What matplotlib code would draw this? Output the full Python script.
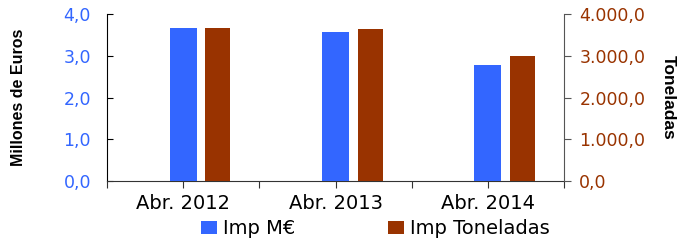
import matplotlib.pyplot as plt
import numpy as np

plt.rcParams['font.family'] = ['DejaVu Sans']

# Data
categories = ['Abr. 2012', 'Abr. 2013', 'Abr. 2014']
imp_meur = [3.67, 3.58, 2.79]          # Millones de Euros (left axis)
imp_ton = [3670.0, 3650.0, 3000.0]     # Toneladas (right axis)

blue = '#3366FF'
brown = '#993300'


def fmt_es(v, pos=None):
    s = f"{v:,.1f}"
    return s.replace(',', 'X').replace('.', ',').replace('X', '.')


fig = plt.figure(figsize=(6.94, 2.42), dpi=100)
ax = fig.add_axes([0.1542, 0.252, 0.6585, 0.690])
ax2 = ax.twinx()

x = np.arange(len(categories))
b1 = ax.bar(x, imp_meur, width=0.178, color=blue, label='Imp M€', zorder=3)
b2 = ax2.bar(x + 0.227, imp_ton, width=0.165, color=brown, label='Imp Toneladas', zorder=3)

ax.set_xlim(-0.5, 2.5)
ax.set_ylim(0, 4)
ax2.set_ylim(0, 4000)
ax.set_yticks([0, 1, 2, 3, 4])
ax2.set_yticks([0, 1000, 2000, 3000, 4000])
ax.yaxis.set_major_formatter(plt.FuncFormatter(fmt_es))
ax2.yaxis.set_major_formatter(plt.FuncFormatter(fmt_es))

ax.set_xticks(x)
ax.set_xticklabels(categories, fontsize=14)
ax.set_xticks([-0.5, 0.5, 1.5, 2.5], minor=True)
ax.tick_params(axis='x', which='both', direction='out', length=5, width=0.8,
               color='#333333', pad=4)

ax.tick_params(axis='y', direction='in', length=4, width=0.8,
               labelcolor=blue, labelsize=12.5, pad=11.5)
ax2.tick_params(axis='y', direction='out', length=5, width=0.8, color='#555555',
                labelcolor=brown, labelsize=12.5, pad=6)

for a in (ax, ax2):
    a.spines['top'].set_visible(False)
ax.spines['right'].set_visible(False)
ax2.spines['left'].set_visible(False)
ax2.spines['bottom'].set_visible(False)
ax2.spines['right'].set_color('#555555')
ax.spines['left'].set_color('black')
ax.spines['bottom'].set_color('#333333')

ax.set_ylabel('Millones de Euros', fontsize=11.5, fontweight='bold',
              family='Liberation Sans')
ax2.set_ylabel('Toneladas', fontsize=12.5, fontweight='bold', rotation=-90,
               va='bottom', family='Liberation Sans')
ax.yaxis.set_label_coords(-0.177, 0.5)
ax2.yaxis.set_label_coords(1.212, 0.5)

fig.legend([b1, b2], ['Imp M€', 'Imp Toneladas'], loc='center left',
           bbox_to_anchor=(0.2896, 0.054), ncol=2, frameon=False, fontsize=14,
           handlelength=0.82, handleheight=0.62, handletextpad=0.3,
           columnspacing=4.8, borderaxespad=0, borderpad=0)

fig.savefig('out.png', dpi=100)
